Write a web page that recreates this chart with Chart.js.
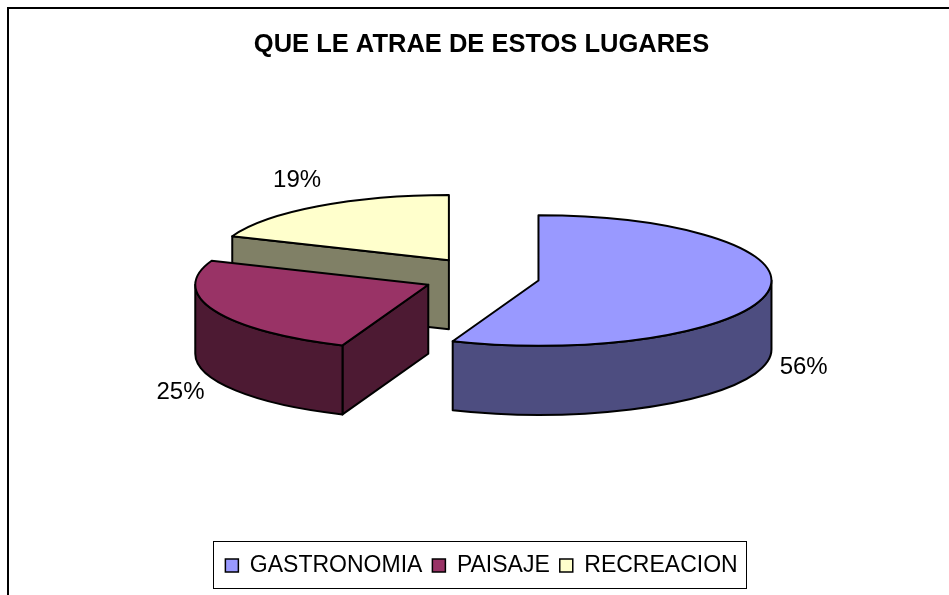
<!DOCTYPE html>
<html>
<head>
<meta charset="utf-8">
<title>QUE LE ATRAE DE ESTOS LUGARES</title>
<script src="https://cdn.jsdelivr.net/npm/chart.js@4.4.1/dist/chart.umd.min.js"></script>
<style>
html,body{margin:0;padding:0;background:#fff;}
#wrap{width:949px;height:595px;}
</style>
</head>
<body>
<div id="wrap"><canvas id="pieChart" width="949" height="595"></canvas></div>
<script>
const categories = ["GASTRONOMIA", "PAISAJE", "RECREACION"];
const percentages = [56, 25, 19];

const topColors = ["#9999FF", "#993366", "#FFFFCC"];
const sideColors = ["#4D4D80", "#4D1A33", "#808066"];

const FONT = "'Liberation Sans', Arial, sans-serif";

function rimPoint(sl, a){
  return [sl.cx + sl.rx * Math.cos(a), sl.cy + sl.ry * Math.sin(a)];
}

function paint(ctx, fill, build){
  ctx.beginPath();
  build();
  ctx.closePath();
  ctx.fillStyle = fill;
  ctx.fill();
  ctx.stroke();
}

// extruded, exploded pie: reads the arcs Chart.js laid out and draws them in 3D
const pie3d = {
  id: "pie3d",
  beforeDatasetsDraw(chart, args, opts){
    const ctx = chart.ctx;
    const meta = chart.getDatasetMeta(0);
    const d = opts.depth;

    const slices = meta.data.map((arc, i) => {
      const p = arc.getProps(["x", "y", "startAngle", "endAngle", "outerRadius"], true);
      const mid = (p.startAngle + p.endAngle) / 2;
      return {
        i,
        s: p.startAngle,
        e: p.endAngle,
        mid,
        cx: p.x + opts.explodeX * Math.cos(mid),
        cy: p.y + opts.explodeY * Math.sin(mid),
        rx: p.outerRadius,
        ry: p.outerRadius * opts.tilt
      };
    });

    ctx.save();
    ctx.lineWidth = 2;
    ctx.lineJoin = "round";
    ctx.strokeStyle = "#000";

    slices
      .slice()
      .sort((a, b) => Math.sin(a.mid) - Math.sin(b.mid))
      .forEach(sl => {
        const side = sideColors[sl.i];

        // cut faces along the radii, only the ones turned toward the viewer
        [[sl.s, Math.cos(sl.s) < -1e-6], [sl.e, Math.cos(sl.e) > 1e-6]].forEach(([a, show]) => {
          if (!show) return;
          const [x, y] = rimPoint(sl, a);
          paint(ctx, side, () => {
            ctx.moveTo(sl.cx, sl.cy);
            ctx.lineTo(x, y);
            ctx.lineTo(x, y + d);
            ctx.lineTo(sl.cx, sl.cy + d);
          });
        });

        // outer wall on the front half
        for (let k = -2; k <= 2; k++){
          const a = Math.max(sl.s, k * 2 * Math.PI);
          const b = Math.min(sl.e, k * 2 * Math.PI + Math.PI);
          if (b - a < 1e-6) continue;
          const [bx, by] = rimPoint(sl, b);
          paint(ctx, side, () => {
            ctx.ellipse(sl.cx, sl.cy, sl.rx, sl.ry, 0, a, b);
            ctx.lineTo(bx, by + d);
            ctx.ellipse(sl.cx, sl.cy + d, sl.rx, sl.ry, 0, b, a, true);
          });
        }

        // top face
        paint(ctx, topColors[sl.i], () => {
          ctx.moveTo(sl.cx, sl.cy);
          ctx.ellipse(sl.cx, sl.cy, sl.rx, sl.ry, 0, sl.s, sl.e);
        });
      });

    // percentage labels
    const total = percentages.reduce((a, b) => a + b, 0);
    ctx.font = "24px " + FONT;
    ctx.fillStyle = "#000";
    ctx.textAlign = "center";
    ctx.textBaseline = "middle";
    slices.forEach(sl => {
      const sin = Math.sin(sl.mid);
      const x = sl.cx + (sl.rx + opts.labelGapX) * Math.cos(sl.mid);
      const y = sl.cy + (sl.ry + opts.labelGapY) * sin + (sin > 0 ? d : 0);
      ctx.fillText(Math.round(percentages[sl.i] / total * 100) + "%", x, y);
    });

    ctx.restore();
    return false;
  }
};

// outer frame and the box round the legend
const frame = {
  id: "frame",
  afterDraw(chart){
    const ctx = chart.ctx;
    const boxes = chart.legend.legendHitBoxes;
    const first = boxes[0];
    const last = boxes[boxes.length - 1];

    ctx.save();
    ctx.strokeStyle = "#000";
    ctx.lineWidth = 1;
    ctx.strokeRect(
      Math.round(first.left - 12) + 0.5,
      Math.round(first.top - 13) + 0.5,
      Math.round(last.left + last.width - first.left + 21),
      Math.round(first.height + 24)
    );

    ctx.lineWidth = 2;
    ctx.beginPath();
    ctx.moveTo(8, chart.height + 4);
    ctx.lineTo(8, 8);
    ctx.lineTo(chart.width + 4, 8);
    ctx.stroke();
    ctx.restore();
  }
};

new Chart(document.getElementById("pieChart"), {
  type: "pie",
  data: {
    labels: categories,
    datasets: [{
      data: percentages,
      backgroundColor: topColors,
      borderColor: "#000",
      borderWidth: 1.5
    }]
  },
  options: {
    responsive: false,
    animation: false,
    radius: 233,
    layout: { padding: { left: 14, bottom: 8 } },
    plugins: {
      title: {
        display: true,
        text: "QUE LE ATRAE DE ESTOS LUGARES",
        color: "#000",
        font: { family: FONT, size: 25.5, weight: "bold" },
        padding: { top: 30, bottom: -51 }
      },
      legend: {
        position: "bottom",
        labels: {
          color: "#000",
          font: { family: FONT, size: 23 },
          boxWidth: 13,
          boxHeight: 13,
          padding: 10
        }
      },
      tooltip: { enabled: false },
      pie3d: { tilt: 0.28, depth: 69, explodeX: 58, explodeY: 20, labelGapX: 37, labelGapY: 31 }
    }
  },
  plugins: [pie3d, frame]
});
</script>
</body>
</html>
